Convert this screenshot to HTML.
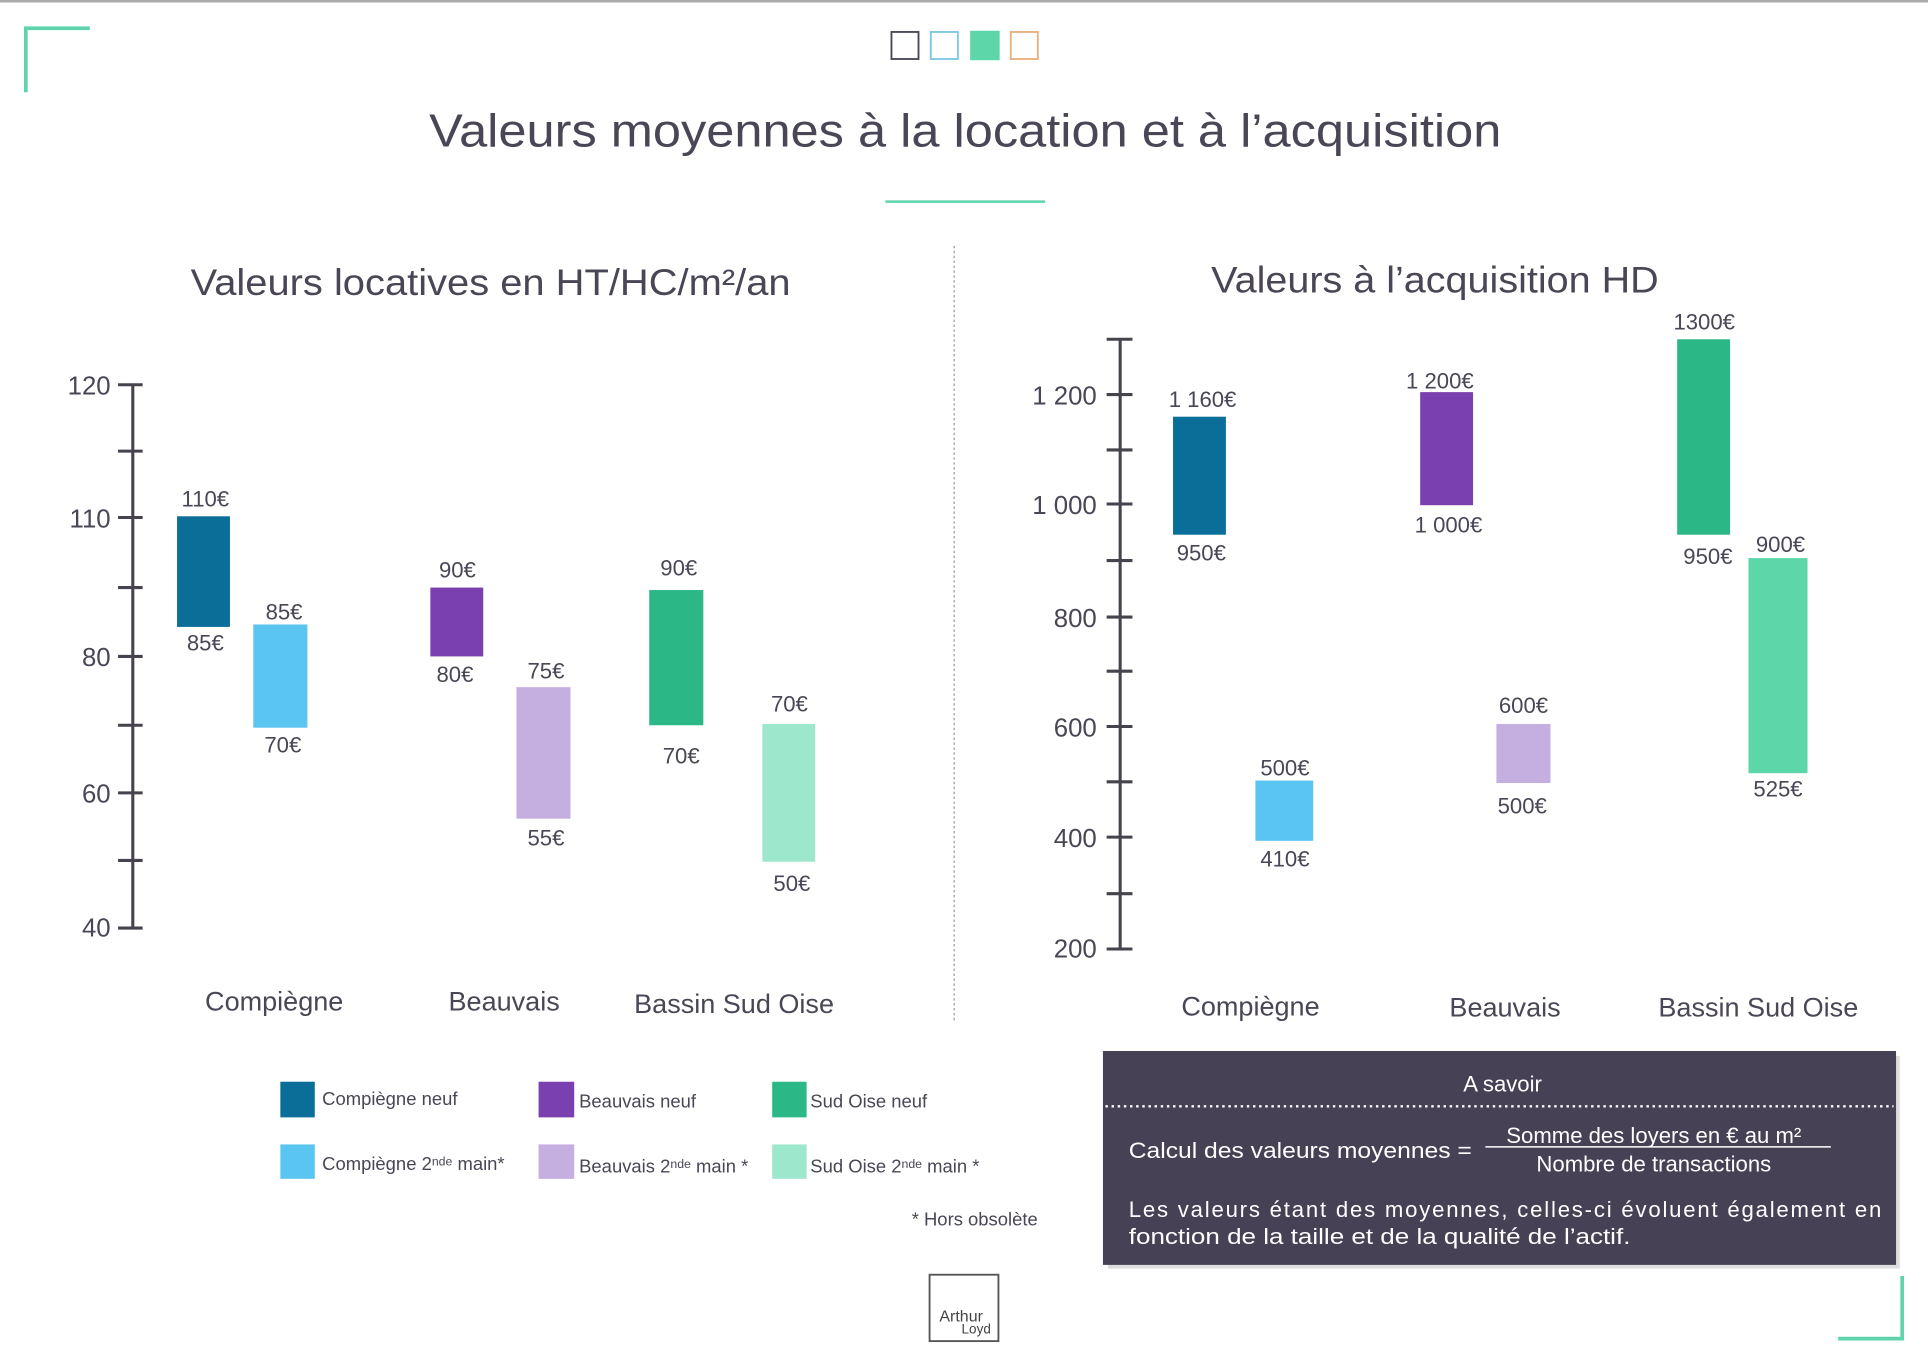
<!DOCTYPE html>
<html><head><meta charset="utf-8"><style>
html,body{margin:0;padding:0;background:#fff;}
svg{display:block;}
text{font-family:"Liberation Sans","DejaVu Sans",sans-serif;fill:#4a4656;}
.v{font-size:18px;text-anchor:middle;}
.ax{font-size:21px;text-anchor:end;}
.cat{font-size:22px;text-anchor:middle;}
.lg{font-size:15px;}
</style></head><body>
<svg width="1928" height="1362" viewBox="0 0 1568 1108" preserveAspectRatio="none" xmlns="http://www.w3.org/2000/svg">
<rect width="1568" height="1108" fill="#fff"/>
<line x1="0" y1="1" x2="1568" y2="1" stroke="#aaa" stroke-width="2"/>
<path d="M21 75 V23 H73" fill="none" stroke="#5fd3ae" stroke-width="3"/>
<path d="M1547 1038 V1089 H1495" fill="none" stroke="#5fd3ae" stroke-width="3"/>
<rect x="725" y="26" width="22" height="22" fill="#fff" stroke="#4a4656" stroke-width="1.5"/>
<rect x="757" y="26" width="22" height="22" fill="#fff" stroke="#7cc8e0" stroke-width="1.5"/>
<rect x="789" y="25" width="24" height="24" fill="#5dd6a9"/>
<rect x="822" y="26" width="22" height="22" fill="#fff" stroke="#e8b07a" stroke-width="1.5"/>
<text x="785" y="119" style="font-size:38px" text-anchor="middle" textLength="872" lengthAdjust="spacingAndGlyphs">Valeurs moyennes à la location et à l’acquisition</text>
<line x1="720" y1="164" x2="850" y2="164" stroke="#5fd3ae" stroke-width="2"/>
<line x1="776" y1="200" x2="776" y2="830" stroke="#999" stroke-width="1" stroke-dasharray="2,2"/>
<text x="155" y="240" style="font-size:30px" textLength="488" lengthAdjust="spacingAndGlyphs">Valeurs locatives en HT/HC/m²/an</text>
<text x="985" y="238" style="font-size:30px" textLength="364" lengthAdjust="spacingAndGlyphs">Valeurs à l’acquisition HD</text>

<g stroke="#46434f" stroke-width="2.5">
<line x1="108" y1="313" x2="108" y2="755"/>
<line x1="96" y1="313" x2="116" y2="313"/><line x1="96" y1="367" x2="116" y2="367"/>
<line x1="96" y1="421" x2="116" y2="421"/><line x1="96" y1="478" x2="116" y2="478"/>
<line x1="96" y1="534" x2="116" y2="534"/><line x1="96" y1="590" x2="116" y2="590"/>
<line x1="96" y1="645" x2="116" y2="645"/><line x1="96" y1="700" x2="116" y2="700"/>
<line x1="96" y1="755" x2="116" y2="755"/>
</g>
<text class="ax" x="90" y="321">120</text><text class="ax" x="90" y="429">110</text>
<text class="ax" x="90" y="542">80</text><text class="ax" x="90" y="653">60</text><text class="ax" x="90" y="762">40</text>

<rect x="144" y="420" width="43" height="90" fill="#0b6e99"/>
<rect x="206" y="508" width="44" height="84" fill="#5bc5f2"/>
<rect x="350" y="478" width="43" height="56" fill="#7a40b0"/>
<rect x="420" y="559" width="44" height="107" fill="#c5aee0"/>
<rect x="528" y="480" width="44" height="110" fill="#2bb886"/>
<rect x="620" y="589" width="43" height="112" fill="#9de8cc"/>
<text class="v" x="167" y="412">110€</text><text class="v" x="167" y="529">85€</text>
<text class="v" x="231" y="504">85€</text><text class="v" x="230" y="612">70€</text>
<text class="v" x="372" y="470">90€</text><text class="v" x="370" y="555">80€</text>
<text class="v" x="444" y="552">75€</text><text class="v" x="444" y="688">55€</text>
<text class="v" x="552" y="468">90€</text><text class="v" x="554" y="621">70€</text>
<text class="v" x="642" y="579">70€</text><text class="v" x="644" y="725">50€</text>
<text class="cat" x="223" y="822">Compiègne</text><text class="cat" x="410" y="822">Beauvais</text><text class="cat" x="597" y="824">Bassin Sud Oise</text>

<g stroke="#46434f" stroke-width="2.5">
<line x1="911" y1="276" x2="911" y2="773"/>
<line x1="900" y1="276" x2="921" y2="276"/><line x1="900" y1="321" x2="921" y2="321"/>
<line x1="900" y1="366" x2="921" y2="366"/><line x1="900" y1="410" x2="921" y2="410"/>
<line x1="900" y1="456" x2="921" y2="456"/><line x1="900" y1="502" x2="921" y2="502"/>
<line x1="900" y1="546" x2="921" y2="546"/><line x1="900" y1="591" x2="921" y2="591"/>
<line x1="900" y1="636" x2="921" y2="636"/><line x1="900" y1="681" x2="921" y2="681"/>
<line x1="900" y1="727" x2="921" y2="727"/><line x1="900" y1="772" x2="921" y2="772"/>
</g>
<text class="ax" x="892" y="329">1 200</text><text class="ax" x="892" y="418">1 000</text>
<text class="ax" x="892" y="510">800</text><text class="ax" x="892" y="599">600</text>
<text class="ax" x="892" y="689">400</text><text class="ax" x="892" y="779">200</text>

<rect x="954" y="339" width="43" height="96" fill="#0b6e99"/>
<rect x="1021" y="635" width="47" height="49" fill="#5bc5f2"/>
<rect x="1155" y="319" width="43" height="92" fill="#7a40b0"/>
<rect x="1217" y="589" width="44" height="48" fill="#c5aee0"/>
<rect x="1364" y="276" width="43" height="159" fill="#2bb886"/>
<rect x="1422" y="454" width="48" height="175" fill="#5dd6a9"/>
<text class="v" x="978" y="331">1 160€</text><text class="v" x="977" y="456">950€</text>
<text class="v" x="1045" y="631">500€</text><text class="v" x="1045" y="705">410€</text>
<text class="v" x="1171" y="316">1 200€</text><text class="v" x="1178" y="433">1 000€</text>
<text class="v" x="1239" y="580">600€</text><text class="v" x="1238" y="662">500€</text>
<text class="v" x="1386" y="268">1300€</text><text class="v" x="1389" y="459">950€</text>
<text class="v" x="1448" y="449">900€</text><text class="v" x="1446" y="648">525€</text>
<text class="cat" x="1017" y="826">Compiègne</text><text class="cat" x="1224" y="827">Beauvais</text><text class="cat" x="1430" y="827">Bassin Sud Oise</text>

<rect x="228" y="880" width="28" height="29" fill="#0b6e99"/>
<rect x="228" y="931" width="28" height="28" fill="#5bc5f2"/>
<rect x="438" y="880" width="29" height="29" fill="#7a40b0"/>
<rect x="438" y="931" width="29" height="28" fill="#c5aee0"/>
<rect x="628" y="880" width="28" height="29" fill="#2bb886"/>
<rect x="628" y="931" width="28" height="28" fill="#9de8cc"/>
<text class="lg" x="262" y="899">Compiègne neuf</text>
<text class="lg" x="262" y="952">Compiègne 2<tspan style="font-size:10px" dy="-4">nde</tspan><tspan dy="4"> main*</tspan></text>
<text class="lg" x="471" y="901">Beauvais neuf</text>
<text class="lg" x="471" y="954">Beauvais 2<tspan style="font-size:10px" dy="-4">nde</tspan><tspan dy="4"> main *</tspan></text>
<text class="lg" x="659" y="901">Sud Oise neuf</text>
<text class="lg" x="659" y="954">Sud Oise 2<tspan style="font-size:10px" dy="-4">nde</tspan><tspan dy="4"> main *</tspan></text>
<text class="lg" x="844" y="997" text-anchor="end">* Hors obsolète</text>

<rect x="901" y="859" width="644" height="173" fill="#bbb" opacity="0.5"/>
<rect x="897" y="855" width="645" height="174" fill="#464154"/>
<text x="1222" y="888" style="font-size:18px;fill:#fff" text-anchor="middle">A savoir</text>
<line x1="899" y1="900" x2="1540" y2="900" stroke="#fff" stroke-width="2" stroke-dasharray="2,3"/>
<text x="918" y="942" style="font-size:18px;fill:#fff" textLength="279" lengthAdjust="spacingAndGlyphs">Calcul des valeurs moyennes =</text>
<text x="1345" y="930" style="font-size:18px;fill:#fff" text-anchor="middle">Somme des loyers en € au m²</text>
<line x1="1208" y1="933" x2="1489" y2="933" stroke="#fff" stroke-width="1.3"/>
<text x="1345" y="953" style="font-size:18px;fill:#fff" text-anchor="middle">Nombre de transactions</text>
<text x="918" y="990" style="font-size:18px;fill:#fff" textLength="612" lengthAdjust="spacing">Les valeurs étant des moyennes, celles-ci évoluent également en</text>
<text x="918" y="1012" style="font-size:18px;fill:#fff" textLength="408" lengthAdjust="spacingAndGlyphs">fonction de la taille et de la qualité de l’actif.</text>

<rect x="756" y="1037" width="56" height="54" fill="#fff" stroke="#555" stroke-width="1.5"/>
<text x="764" y="1075" style="font-size:13px;fill:#444">Arthur</text>
<text x="782" y="1085" style="font-size:11px;fill:#444">Loyd</text>
</svg>
</body></html>
